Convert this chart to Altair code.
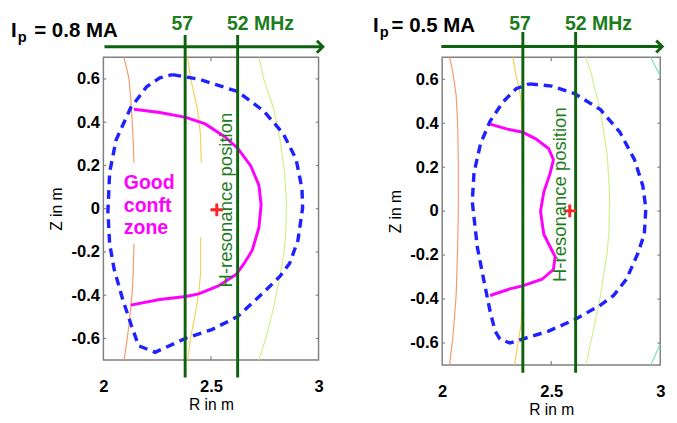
import altair as alt
import pandas as pd

FONT = "Liberation Sans"
R_TICKS = [2, 2.5, 3]
Z_TICKS = [-0.6, -0.4, -0.2, 0, 0.2, 0.4, 0.6]
LEVELS = ["orange", "yellow", "lime", "teal"]
LEVEL_COLORS = ["#f59a68", "#f7cf5a", "#d3ef8a", "#78e2c4"]
FREQ_57 = "57"
FREQ_52 = "52 MHz"
RES_TEXT = "H-resonance position"
ZONE_TEXT = "Good\nconft\nzone"

# ---------------- left panel : Ip = 0.8 MA ----------------
L_IP = "= 0.8 MA"
L_LCFS_R = [2.321, 2.443, 2.624, 2.745, 2.836, 2.896, 2.923, 2.926, 2.904, 2.866, 2.821, 2.745,
            2.624, 2.504, 2.383, 2.240, 2.164, 2.130, 2.090, 2.050, 2.029, 2.021, 2.029, 2.059,
            2.127, 2.202, 2.262, 2.321]
L_LCFS_Z = [0.620, 0.599, 0.542, 0.452, 0.347, 0.228, 0.093, 0.004, -0.147, -0.252, -0.312, -0.387,
            -0.499, -0.559, -0.599, -0.664, -0.634, -0.540, -0.420, -0.280, -0.162, -0.012, 0.168, 0.318,
            0.467, 0.565, 0.605, 0.620]
L_CONF_R = [2.142, 2.262, 2.383, 2.473, 2.564, 2.624, 2.685, 2.723, 2.733, 2.723, 2.692, 2.655,
            2.617, 2.534, 2.443, 2.383, 2.262, 2.127]
L_CONF_Z = [0.460, 0.445, 0.422, 0.392, 0.333, 0.280, 0.198, 0.108, 0.018, -0.087, -0.192, -0.252,
            -0.304, -0.357, -0.394, -0.406, -0.420, -0.446]
L_AXIS_R = [2.527]
L_AXIS_Z = [-0.005]
L_RES_R = [2.380, 2.624]
L_CONTOURS = [
    ("orange", 1, [2.095, 2.108, 2.119, 2.128, 2.134, 2.139, 2.142],
                  [0.700, 0.650, 0.600, 0.500, 0.400, 0.300, 0.213]),
    ("orange", 2, [2.142, 2.139, 2.134, 2.127, 2.119, 2.108, 2.096],
                  [-0.162, -0.280, -0.387, -0.460, -0.536, -0.620, -0.700]),
    ("yellow", 3, [2.391, 2.406, 2.436, 2.451, 2.455],
                  [0.700, 0.600, 0.467, 0.347, 0.213]),
    ("yellow", 4, [2.452, 2.452, 2.443, 2.428, 2.405, 2.391],
                  [-0.132, -0.300, -0.387, -0.480, -0.600, -0.700]),
    ("lime", 5, [2.723, 2.745, 2.790, 2.821, 2.843, 2.851, 2.848, 2.840, 2.821, 2.790, 2.760, 2.723],
                [0.700, 0.600, 0.467, 0.318, 0.168, 0.020, -0.100, -0.200, -0.312, -0.462, -0.581, -0.700]),
]

# ---------------- right panel : Ip = 0.5 MA ----------------
R_IP = "= 0.5 MA"
R_LCFS_R = [2.399, 2.503, 2.607, 2.726, 2.815, 2.882, 2.920, 2.934, 2.927, 2.897, 2.845, 2.786,
            2.726, 2.607, 2.488, 2.369, 2.310, 2.265, 2.243, 2.220, 2.190, 2.161, 2.153, 2.138,
            2.146, 2.176, 2.220, 2.280, 2.339, 2.399]
R_LCFS_Z = [0.579, 0.569, 0.535, 0.462, 0.359, 0.234, 0.116, 0.013, -0.105, -0.193, -0.310, -0.384,
            -0.428, -0.494, -0.546, -0.582, -0.600, -0.582, -0.546, -0.457, -0.310, -0.163, -0.090, 0.043,
            0.175, 0.307, 0.410, 0.498, 0.557, 0.579]
R_CONF_R = [2.220, 2.295, 2.369, 2.429, 2.488, 2.510, 2.496, 2.466, 2.451, 2.466, 2.503, 2.518,
            2.510, 2.458, 2.369, 2.310, 2.220]
R_CONF_Z = [0.396, 0.374, 0.359, 0.329, 0.285, 0.234, 0.175, 0.087, -0.001, -0.105, -0.178, -0.207,
            -0.266, -0.310, -0.340, -0.354, -0.384]
R_AXIS_R = [2.585]
R_AXIS_Z = [0.001]
R_RES_R = [2.370, 2.612]
R_CONTOURS = [
    ("orange", 1, [2.034, 2.049, 2.064, 2.071, 2.074, 2.074, 2.071, 2.064, 2.049, 2.034],
                  [0.700, 0.631, 0.528, 0.400, 0.234, 0.000, -0.163, -0.384, -0.575, -0.700]),
    ("yellow", 2, [2.324, 2.339, 2.354, 2.362, 2.368, 2.370, 2.368, 2.362, 2.347, 2.332],
                  [0.700, 0.616, 0.557, 0.498, 0.350, 0.000, -0.350, -0.516, -0.604, -0.700]),
    ("lime", 3, [2.659, 2.682, 2.726, 2.756, 2.768, 2.765, 2.756, 2.726, 2.696, 2.659],
                [0.700, 0.631, 0.454, 0.263, 0.087, -0.090, -0.193, -0.384, -0.531, -0.700]),
    ("teal", 4, [2.957, 3.000], [0.700, 0.615]),
    ("teal", 5, [2.957, 3.000], [-0.700, -0.604]),
]

GREEN_LINE = "#0e620e"
GREEN_TEXT = "#1d7d1d"

xs = alt.Scale(domain=[2, 3], nice=False, zero=False)
ys = alt.Scale(domain=[-0.7, 0.7], nice=False, zero=False)
xaxis = alt.Axis(values=R_TICKS, title="R in m", labelExpr="'' + datum.value", ticks=False,
                 domain=False, grid=False, labelFlush=False, labelFont=FONT, labelFontSize=17,
                 labelFontWeight="bold", labelColor="black", labelPadding=19, titleFont=FONT,
                 titleFontSize=16, titleFontWeight="normal", titleColor="black", titlePadding=3)
yaxis = alt.Axis(values=Z_TICKS, title="Z in m", labelExpr="'' + datum.value", ticks=False,
                 domain=False, grid=False, labelFlush=False, labelFont=FONT, labelFontSize=17,
                 labelFontWeight="bold", labelColor="black", labelPadding=4, titleFont=FONT,
                 titleFontSize=16, titleFontWeight="normal", titleColor="black", titlePadding=7)


def X(f="R"):
    return alt.X(f"{f}:Q", scale=xs, axis=xaxis)


def Y(f="Z"):
    return alt.Y(f"{f}:Q", scale=ys, axis=yaxis)


def seq(Rs, Zs):
    return pd.DataFrame({"R": Rs, "Z": Zs, "o": list(range(len(Rs)))})


def panel(cfg):
    rows = []
    for level, seg, Rs, Zs in cfg["contours"]:
        for i, (r, z) in enumerate(zip(Rs, Zs)):
            rows.append({"level": level, "seg": seg, "R": r, "Z": z, "o": i})
    cdf = pd.DataFrame(rows)
    contours = alt.Chart(cdf).mark_line(strokeWidth=1.2, clip=False).encode(
        x=X(), y=Y(),
        color=alt.Color("level:N", scale=alt.Scale(domain=LEVELS, range=LEVEL_COLORS), legend=None),
        detail="seg:N", order="o:Q")

    ticks_rows = []
    for z in Z_TICKS:
        ticks_rows.append({"R": 2.0, "R2": 2.013, "Z": z, "Z2": z})
        ticks_rows.append({"R": 2.987, "R2": 3.0, "Z": z, "Z2": z})
    ticks_rows.append({"R": 2.5, "R2": 2.5, "Z": -0.7, "Z2": -0.682})
    ticks_rows.append({"R": 2.5, "R2": 2.5, "Z": 0.682, "Z2": 0.7})
    ticks = alt.Chart(pd.DataFrame(ticks_rows)).mark_rule(color="#808080", strokeWidth=1.2).encode(
        x=X(), x2="R2:Q", y=Y(), y2="Z2:Q")

    lcfs = alt.Chart(seq(cfg["lcfs_r"], cfg["lcfs_z"])).mark_line(
        color="#1f22ff", strokeWidth=3.5, strokeDash=[9, 6], clip=False).encode(x=X(), y=Y(), order="o:Q")
    conf = alt.Chart(seq(cfg["conf_r"], cfg["conf_z"])).mark_line(
        color="#ff00ff", strokeWidth=3, clip=False).encode(x=X(), y=Y(), order="o:Q")

    res = alt.Chart(pd.DataFrame({"R": cfg["res_r"], "Z": [cfg["res_top"]] * 2,
                                  "Z2": [cfg["res_bot"]] * 2})).mark_rule(
        color=GREEN_LINE, strokeWidth=3).encode(x=X(), y=Y(), y2="Z2:Q")

    arrow = alt.Chart(pd.DataFrame({"R": [cfg["arrow_r0"]], "R2": [cfg["arrow_r1"]],
                                    "Z": [cfg["arrow_z"]]})).mark_rule(
        color=GREEN_LINE, strokeWidth=3).encode(x=X(), x2="R2:Q", y=Y())
    head = alt.Chart(pd.DataFrame({"R": [cfg["arrow_r1"]], "Z": [cfg["arrow_z"]]})).mark_point(
        shape="M-1,-1L0,0L-1,1", size=150, filled=False, strokeWidth=3, color=GREEN_LINE,
        opacity=1, strokeJoin="miter").encode(x=X(), y=Y())

    plus = alt.Chart(pd.DataFrame({"R": cfg["axis_r"], "Z": cfg["axis_z"]})).mark_point(
        shape="M-1,0L1,0M0,-1L0,1", size=170, filled=False, strokeWidth=3, color="#ff2525",
        opacity=1).encode(x=X(), y=Y())

    t57 = alt.Chart(pd.DataFrame({"R": [cfg["res_r"][0]], "Z": [cfg["freq_z"]], "t": [FREQ_57]})).mark_text(
        font=FONT, fontSize=20, fontWeight="bold", color=GREEN_TEXT, align="center",
        baseline="alphabetic", dx=-3).encode(x=X(), y=Y(), text="t:N")
    t52 = alt.Chart(pd.DataFrame({"R": [cfg["res_r"][1]], "Z": [cfg["freq_z"]], "t": [FREQ_52]})).mark_text(
        font=FONT, fontSize=20, fontWeight="bold", color=GREEN_TEXT, align="left",
        baseline="alphabetic", dx=-11).encode(x=X(), y=Y(), text="t:N")

    ipdf = pd.DataFrame({"R": [cfg["ip_r"]], "Z": [cfg["ip_z"]], "i": ["I"], "p": ["p"], "v": [cfg["ip"]]})
    ti = alt.Chart(ipdf).mark_text(font=FONT, fontSize=21, fontWeight="bold", color="black",
                                   align="left", baseline="alphabetic").encode(x=X(), y=Y(), text="i:N")
    tp = alt.Chart(ipdf).mark_text(font=FONT, fontSize=15, fontWeight="bold", color="black",
                                   align="left", baseline="alphabetic", dx=7, dy=5).encode(
        x=X(), y=Y(), text="p:N")
    tv = alt.Chart(ipdf).mark_text(font=FONT, fontSize=21, fontWeight="bold", color="black",
                                   align="left", baseline="alphabetic", dx=cfg["ip_dx"]).encode(
        x=X(), y=Y(), text="v:N")

    tres = alt.Chart(pd.DataFrame({"R": [cfg["rt_r"]], "Z": [cfg["rt_z"]], "t": [RES_TEXT]})).mark_text(
        font=FONT, fontSize=19, color=GREEN_TEXT, angle=270, align="center", baseline="middle").encode(
        x=X(), y=Y(), text="t:N")

    layers = [contours, ticks, lcfs, conf, res, arrow, head, plus, t57, t52, ti, tp, tv, tres]
    if cfg.get("zone"):
        tz = alt.Chart(pd.DataFrame({"R": [2.095], "Z": [0.117], "t": [ZONE_TEXT]})).mark_text(
            font=FONT, fontSize=20, fontWeight="bold", color="#ff00ff", align="left", baseline="middle",
            lineBreak="\n", lineHeight=23).encode(x=X(), y=Y(), text="t:N")
        layers.append(tz)
    return alt.layer(*layers).properties(width=cfg["w"], height=cfg["h"])


left = panel(dict(contours=L_CONTOURS, lcfs_r=L_LCFS_R, lcfs_z=L_LCFS_Z, conf_r=L_CONF_R,
                  conf_z=L_CONF_Z, axis_r=L_AXIS_R, axis_z=L_AXIS_Z, res_r=L_RES_R,
                  res_top=0.803, res_bot=-0.781, arrow_r0=2.005, arrow_r1=3.02, arrow_z=0.749,
                  freq_z=0.826, ip=L_IP, ip_r=1.570, ip_z=0.794, ip_dx=24, rt_r=2.570, rt_z=0.040,
                  zone=True, w=221, h=311))
right = panel(dict(contours=R_CONTOURS, lcfs_r=R_LCFS_R, lcfs_z=R_LCFS_Z, conf_r=R_CONF_R,
                   conf_z=R_CONF_Z, axis_r=R_AXIS_R, axis_z=R_AXIS_Z, res_r=R_RES_R,
                   res_top=0.815, res_bot=-0.735, arrow_r0=1.996, arrow_r1=3.009, arrow_z=0.749,
                   freq_z=0.824, ip=R_IP, ip_r=1.683, ip_z=0.815, ip_dx=19, rt_r=2.540, rt_z=0.075,
                   zone=False, w=224, h=316))

chart = alt.hconcat(left, right, spacing=43).configure(
    padding={"left": 2, "top": 0, "right": 0, "bottom": 0}
).configure_view(stroke="#808080", strokeWidth=1.5)

chart.save("out.html", embed_options={"renderer": "svg", "actions": False})
